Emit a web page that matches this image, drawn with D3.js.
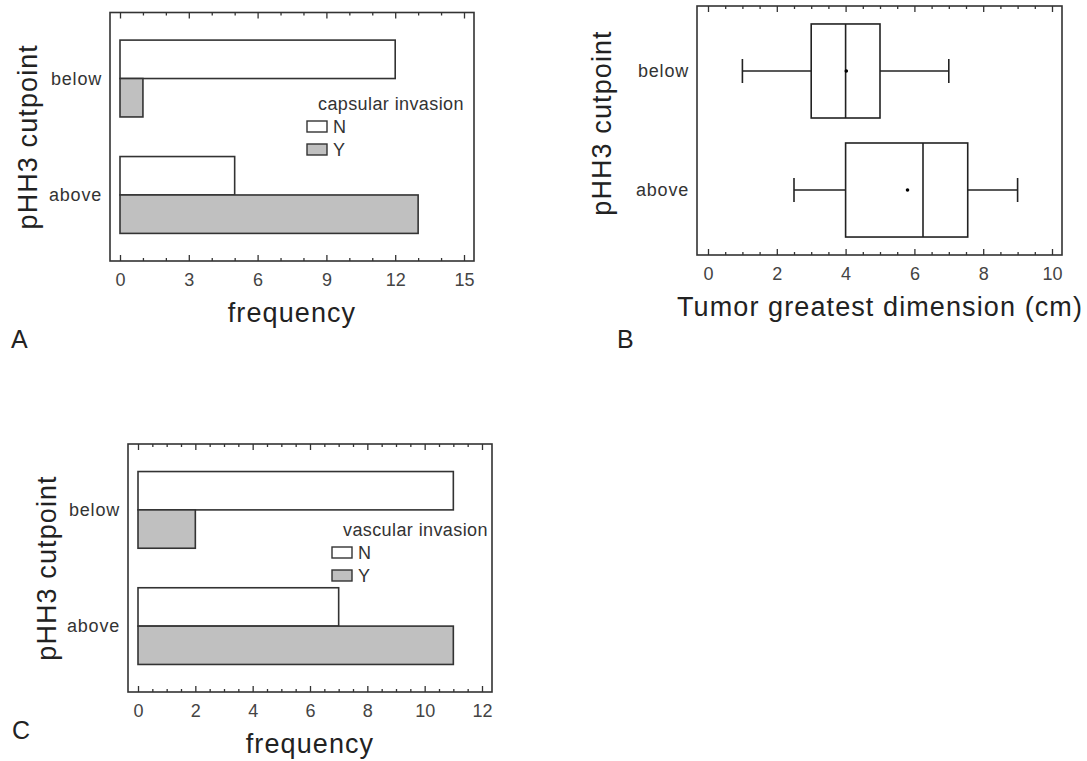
<!DOCTYPE html>
<head>
    <meta charset="utf-8">
    <script src="https://d3js.org/d3.v7.min.js"></script>
    <style>
      body { margin: 0; background: #fff; }
      text {
        font-family: "Liberation Sans", Arial, sans-serif;
        fill: #222;
      }
      .small { font-size: 18px; letter-spacing: 0.8px; fill: #333; }
      .big { font-size: 27px; letter-spacing: 1.1px; }
      .letter { font-size: 25px; }
      .tick text { font-size: 18px; font-family: "Liberation Sans", Arial, sans-serif; fill: #444; }
      .tick line { stroke: #333; stroke-width: 1.3; }
    </style>
<body>
    <script>
        // data
        var groups = ["below", "above"]
        var series = ["N", "Y"]
        var capsularN = [12, 5]
        var capsularY = [1, 13]
        var vascularN = [11, 7]
        var vascularY = [2, 11]
        var whiskerLow = [1, 2.5]
        var q1 = [3, 4]
        var median = [4, 6.25]
        var q3 = [5, 7.55]
        var whiskerHigh = [7, 9]
        var means = [4.02, 5.8]
        var ticksA = [0, 3, 6, 9, 12, 15]
        var ticksB = [0, 2, 4, 6, 8, 10]
        var ticksC = [0, 2, 4, 6, 8, 10, 12]

        var svg = d3.select("body").append("svg")
          .attr("width", 1087)
          .attr("height", 761)

        function frameAxes(g, x, y0, y1, majors, minorStep) {
          var dom = x.domain()
          var minors = d3.range(dom[0], dom[1] + minorStep/2, minorStep).filter(function(v){
            return majors.indexOf(+v.toFixed(3)) == -1
          })
          var bot = g.append("g").attr("transform", "translate(0,"+y1+")")
            .call(d3.axisBottom(x).tickValues(majors).tickSize(-6).tickPadding(12).tickFormat(d3.format("d")))
          bot.select(".domain").remove()
          var botMin = g.append("g").attr("transform", "translate(0,"+y1+")")
            .call(d3.axisBottom(x).tickValues(minors).tickSize(-3).tickFormat(""))
          botMin.select(".domain").remove()
          var top = g.append("g").attr("transform", "translate(0,"+y0+")")
            .call(d3.axisTop(x).tickValues(majors).tickSize(-6).tickFormat(""))
          top.select(".domain").remove()
          var topMin = g.append("g").attr("transform", "translate(0,"+y0+")")
            .call(d3.axisTop(x).tickValues(minors).tickSize(-3).tickFormat(""))
          topMin.select(".domain").remove()
        }

        function barPanel(o) {
          var g = svg.append("g")
          var x = d3.scaleLinear().domain([0, o.max]).range([o.x0 + 10, o.x1 - 10])
          var y = d3.scaleBand().domain(groups).range([o.y0, o.y1])
            .paddingInner(0.34).paddingOuter(0.237)
          var ySub = d3.scaleBand().domain(series).range([0, y.bandwidth()])
          var rows = []
          groups.forEach(function(grp, i){
            rows.push({grp: grp, s: "N", v: o.nVals[i]})
            rows.push({grp: grp, s: "Y", v: o.yVals[i]})
          })
          g.selectAll(".bar").data(rows).enter().append("rect")
            .attr("x", x(0))
            .attr("y", function(d){ return y(d.grp) + ySub(d.s) })
            .attr("width", function(d){ return x(d.v) - x(0) })
            .attr("height", ySub.bandwidth())
            .attr("fill", function(d){ return d.s == "N" ? "#fff" : "#c0c0c0" })
            .attr("stroke", "#333")
            .attr("stroke-width", 1.6)

          g.append("rect")
            .attr("x", o.x0).attr("y", o.y0)
            .attr("width", o.x1 - o.x0).attr("height", o.y1 - o.y0)
            .attr("fill", "none").attr("stroke", "#333").attr("stroke-width", 1.6)
          frameAxes(g, x, o.y0, o.y1, o.ticks, o.minor)

          g.selectAll(".cat").data(groups).enter().append("text")
            .classed("small", true)
            .attr("x", o.x0 - 8)
            .attr("y", function(d){ return y(d) + y.bandwidth()/2 })
            .attr("dy", "0.35em")
            .attr("text-anchor", "end")
            .text(function(d){ return d })

          // legend
          g.append("text").classed("small", true)
            .style("letter-spacing", "0.4px")
            .attr("x", o.legX + 11).attr("y", o.legY)
            .text(o.legTitle)
          series.forEach(function(s, i){
            var sy = o.legY + 11 + i*23
            g.append("rect")
              .attr("x", o.legX).attr("y", sy)
              .attr("width", 20).attr("height", 11)
              .attr("fill", s == "N" ? "#fff" : "#c0c0c0")
              .attr("stroke", "#333").attr("stroke-width", 1.4)
            g.append("text").classed("small", true)
              .attr("x", o.legX + 26).attr("y", sy + 12)
              .text(s)
          })

          g.append("text").classed("big", true)
            .attr("text-anchor", "middle")
            .attr("transform", "translate("+o.titleX+","+((o.y0+o.y1)/2)+") rotate(-90)")
            .text("pHH3 cutpoint")
          g.append("text").classed("big", true)
            .attr("text-anchor", "middle")
            .attr("x", (o.x0 + o.x1)/2)
            .attr("y", o.y1 + 61)
            .text("frequency")
          g.append("text").classed("letter", true)
            .attr("x", o.letterX).attr("y", o.letterY)
            .text(o.letter)
        }

        barPanel({x0: 110, x1: 474, y0: 12.5, y1: 261, max: 15, ticks: ticksA, minor: 1,
          nVals: capsularN, yVals: capsularY, legTitle: "capsular invasion",
          legX: 307, legY: 110, titleX: 37, letter: "A", letterX: 11, letterY: 348})
        barPanel({x0: 128, x1: 492, y0: 444, y1: 692, max: 12, ticks: ticksC, minor: 0.5,
          nVals: vascularN, yVals: vascularY, legTitle: "vascular invasion",
          legX: 332, legY: 536, titleX: 56, letter: "C", letterX: 12, letterY: 739})

        // box plot panel B
        var bx0 = 697, bx1 = 1062, by0 = 6, by1 = 255
        var gB = svg.append("g")
        var xB = d3.scaleLinear().domain([0, 10]).range([bx0 + 11, bx1 - 10])
        var yB = d3.scaleBand().domain(groups).range([by0, by1])
          .paddingInner(0.21).paddingOuter(0.151)
        var boxes = groups.map(function(grp, i){
          return {grp: grp, lo: whiskerLow[i], q1: q1[i], med: median[i], q3: q3[i], hi: whiskerHigh[i], mean: means[i]}
        })
        var bxs = gB.selectAll(".box").data(boxes).enter().append("g")
        var lineStyle = function(sel){ return sel.attr("stroke", "#222").attr("stroke-width", 1.6) }
        bxs.append("line")
          .attr("x1", function(d){ return xB(d.lo) }).attr("x2", function(d){ return xB(d.q1) })
          .attr("y1", function(d){ return yB(d.grp) + yB.bandwidth()/2 })
          .attr("y2", function(d){ return yB(d.grp) + yB.bandwidth()/2 })
          .call(lineStyle)
        bxs.append("line")
          .attr("x1", function(d){ return xB(d.q3) }).attr("x2", function(d){ return xB(d.hi) })
          .attr("y1", function(d){ return yB(d.grp) + yB.bandwidth()/2 })
          .attr("y2", function(d){ return yB(d.grp) + yB.bandwidth()/2 })
          .call(lineStyle)
        ;["lo", "hi"].forEach(function(k){
          bxs.append("line")
            .attr("x1", function(d){ return xB(d[k]) }).attr("x2", function(d){ return xB(d[k]) })
            .attr("y1", function(d){ return yB(d.grp) + yB.bandwidth()/2 - 12 })
            .attr("y2", function(d){ return yB(d.grp) + yB.bandwidth()/2 + 12 })
            .call(lineStyle)
        })
        bxs.append("rect")
          .attr("x", function(d){ return xB(d.q1) })
          .attr("y", function(d){ return yB(d.grp) })
          .attr("width", function(d){ return xB(d.q3) - xB(d.q1) })
          .attr("height", yB.bandwidth())
          .attr("fill", "#fff")
          .call(lineStyle)
        bxs.append("line")
          .attr("x1", function(d){ return xB(d.med) }).attr("x2", function(d){ return xB(d.med) })
          .attr("y1", function(d){ return yB(d.grp) })
          .attr("y2", function(d){ return yB(d.grp) + yB.bandwidth() })
          .call(lineStyle)
        bxs.append("circle")
          .attr("cx", function(d){ return xB(d.mean) })
          .attr("cy", function(d){ return yB(d.grp) + yB.bandwidth()/2 })
          .attr("r", 1.8)
          .attr("fill", "#000")

        gB.append("rect")
          .attr("x", bx0).attr("y", by0)
          .attr("width", bx1 - bx0).attr("height", by1 - by0)
          .attr("fill", "none").attr("stroke", "#333").attr("stroke-width", 1.6)
        frameAxes(gB, xB, by0, by1, ticksB, 0.5)

        gB.selectAll(".cat").data(groups).enter().append("text")
          .classed("small", true)
          .attr("x", bx0 - 8)
          .attr("y", function(d){ return yB(d) + yB.bandwidth()/2 })
          .attr("dy", "0.35em")
          .attr("text-anchor", "end")
          .text(function(d){ return d })
        gB.append("text").classed("big", true)
          .attr("text-anchor", "middle")
          .attr("transform", "translate(611,123) rotate(-90)")
          .text("pHH3 cutpoint")
        gB.append("text").classed("big", true)
          .attr("x", 677)
          .attr("y", by1 + 61)
          .text("Tumor greatest dimension (cm)")
        gB.append("text").classed("letter", true)
          .attr("x", 617).attr("y", 348)
          .text("B")
    </script>
</body>
